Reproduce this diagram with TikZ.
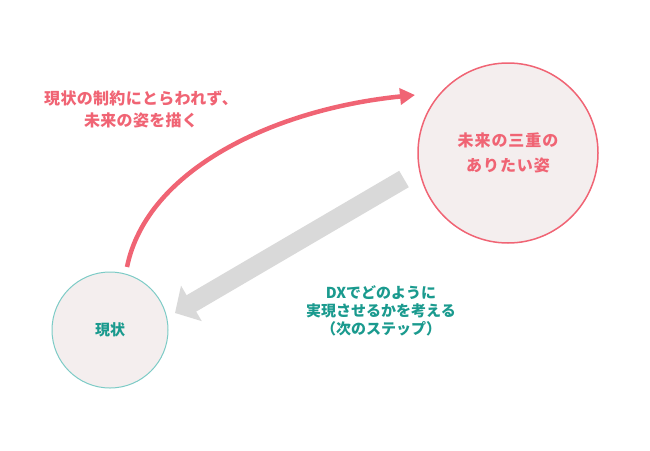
\documentclass[tikz,border=0pt]{standalone}
\usepackage{fontspec}
\setmainfont{Noto Sans CJK JP}
\usetikzlibrary{arrows.meta,positioning}
\definecolor{GoalRed}{RGB}{240,100,116}
\definecolor{NowTeal}{RGB}{26,154,142}
\definecolor{NowRing}{RGB}{124,203,198}
\definecolor{CircleFill}{RGB}{244,238,238}
\definecolor{StepGray}{RGB}{217,217,217}

\begin{document}
\begin{tikzpicture}[x=1pt,y=-1pt,
        stage/.style={circle,fill=CircleFill,align=center,inner sep=0pt},
        note/.style={align=center,font=\bfseries\fontsize{15}{18}\selectfont},
        leap/.style={-{Triangle[length=15pt,width=16pt]},GoalRed,line width=4.5pt},
        back/.style={-{Triangle[length=19pt,width=40pt]},StepGray,line width=19pt}
      ]
        \useasboundingbox (0,0) rectangle (650,450);
        % Now
        \node[stage,draw=NowRing,line width=1pt,minimum size=116pt,text=NowTeal,
              font=\bfseries\fontsize{15}{18}\selectfont] (now) at (110,330) {現状};
        % Goal
        \node[stage,draw=GoalRed,line width=1.5pt,minimum size=180pt,text=GoalRed,
              font=\bfseries\fontsize{16}{25}\selectfont\addfontfeatures{LetterSpace=6}]
              (goal) at (508,153) {未来の三重の\\ありたい姿};
        % Leap forward
        \coordinate (leapS) at (127,267);
        \coordinate (leapE) at (415,95);
        \draw[leap] (leapS) .. controls (147,169) and (275,109) .. (leapE);
        \node[note,text=GoalRed,font=\bfseries\fontsize{16}{22}\selectfont\addfontfeatures{LetterSpace=2}]
          (leapnote) at (141,109) {現状の制約にとらわれず、\\未来の姿を描く};
        % Step back
        \coordinate (backS) at (404,179);
        \coordinate (backE) at (175,313);
        \draw[back] (backS) -- (backE);
        \node[note,text=NowTeal] (backnote) at (381,311)
          {DXでどのように\\実現させるかを考える\\（次のステップ）};
      \end{tikzpicture}
\end{document}
